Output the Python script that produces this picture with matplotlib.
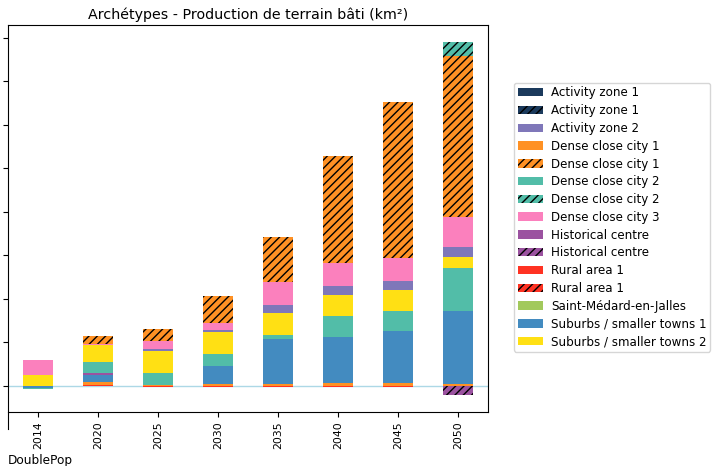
import matplotlib
matplotlib.use("Agg")
import matplotlib.pyplot as plt
import matplotlib.patches as mpatches
import numpy as np

years = ["2014", "2020", "2025", "2030", "2035", "2040", "2045", "2050"]

# Stacked series, in drawing order (bottom to top); values in axis tick units
rural_1             = [0.00, 0.01, -0.03, -0.03, -0.03, -0.03, -0.03, 0.00]
dense_city_1        = [0.00, 0.07, 0.03, 0.05, 0.05, 0.06, 0.06, 0.04]
suburbs_1           = [-0.05, 0.16, 0.00, 0.40, 1.02, 1.07, 1.21, 1.67]
historical          = [0.00, 0.06, 0.00, 0.00, 0.00, 0.00, 0.00, 0.00]
dense_city_2        = [-0.02, 0.26, 0.27, 0.28, 0.10, 0.47, 0.46, 0.99]
suburbs_2           = [0.26, 0.39, 0.51, 0.50, 0.50, 0.48, 0.47, 0.25]
activity_2          = [0.00, 0.00, 0.04, 0.05, 0.18, 0.22, 0.21, 0.23]
dense_city_3        = [0.34, 0.01, 0.18, 0.16, 0.54, 0.53, 0.52, 0.69]
dense_city_1_h      = [0.00, 0.19, 0.28, 0.63, 1.02, 2.44, 3.59, 3.71]
dense_city_2_h      = [0.00, 0.00, 0.00, 0.00, 0.00, 0.00, 0.00, 0.33]
historical_h        = [0.00, 0.00, 0.00, 0.00, 0.00, 0.00, 0.00, -0.21]
activity_1          = [0.0] * 8
activity_1_h        = [0.0] * 8
rural_1_h           = [0.0] * 8
saint_medard        = [0.0] * 8

C_ACT1 = "#1b3a5c"
C_ACT2 = "#7f77b9"
C_DC1 = "#ff9124"
C_DC2 = "#52bda8"
C_DC3 = "#fb80bd"
C_HIST = "#9b52a0"
C_RUR = "#ff3222"
C_SMJ = "#a2c95c"
C_SUB1 = "#438bc0"
C_SUB2 = "#ffe014"
HATCH = "////"

series = [
    (rural_1, C_RUR, None),
    (rural_1_h, C_RUR, HATCH),
    (dense_city_1, C_DC1, None),
    (suburbs_1, C_SUB1, None),
    (historical, C_HIST, None),
    (dense_city_2, C_DC2, None),
    (suburbs_2, C_SUB2, None),
    (activity_1, C_ACT1, None),
    (activity_2, C_ACT2, None),
    (saint_medard, C_SMJ, None),
    (dense_city_3, C_DC3, None),
    (dense_city_1_h, C_DC1, HATCH),
    (dense_city_2_h, C_DC2, HATCH),
    (historical_h, C_HIST, HATCH),
    (activity_1_h, C_ACT1, HATCH),
]

legend_items = [
    ("Activity zone 1", C_ACT1, None),
    ("Activity zone 1", C_ACT1, HATCH),
    ("Activity zone 2", C_ACT2, None),
    ("Dense close city 1", C_DC1, None),
    ("Dense close city 1", C_DC1, HATCH),
    ("Dense close city 2", C_DC2, None),
    ("Dense close city 2", C_DC2, HATCH),
    ("Dense close city 3", C_DC3, None),
    ("Historical centre", C_HIST, None),
    ("Historical centre", C_HIST, HATCH),
    ("Rural area 1", C_RUR, None),
    ("Rural area 1", C_RUR, HATCH),
    ("Saint-Médard-en-Jalles", C_SMJ, None),
    ("Suburbs / smaller towns 1", C_SUB1, None),
    ("Suburbs / smaller towns 2", C_SUB2, None),
]

plt.rcParams["hatch.linewidth"] = 1.0
fig = plt.figure(figsize=(7.12, 4.66), dpi=100)
ax = fig.add_axes([8/712, 1-412/466, 480/712, 387/466])

x = np.arange(len(years))
pos_base = np.zeros(len(years))
neg_base = np.zeros(len(years))
for vals, col, hatch in series:
    v = np.array(vals, dtype=float)
    pos = np.where(v > 0, v, 0)
    neg = np.where(v < 0, v, 0)
    if pos.any():
        ax.bar(x, pos, 0.5, bottom=pos_base, color=col, hatch=hatch,
               edgecolor="black" if hatch else col, linewidth=0)
        pos_base += pos
    if neg.any():
        ax.bar(x, neg, 0.5, bottom=neg_base, color=col, hatch=hatch,
               edgecolor="black" if hatch else col, linewidth=0)
        neg_base += neg

ax.axhline(0, color="#add8e6", linewidth=1.0, zorder=0.5)
ax.set_xlim(-0.5, len(years) - 0.5)
ax.set_ylim(-0.6, 8.29)
ax.set_yticks(range(0, 9))
ax.tick_params(axis="y", labelleft=False)
ax.set_xticks(x)
ax.set_xticklabels(years, rotation=90, fontsize=7.8)
ax.spines["left"].set_bounds(-1.0, 8.29)

ax.set_title("Archétypes - Production de terrain bâti (km²)", fontsize=10.3, pad=4)
fig.text(8/712, 1-464/466, "DoublePop", ha="left", va="baseline", fontsize=8.7)

handles = []
for lab, col, hatch in legend_items:
    handles.append(mpatches.Patch(facecolor=col, hatch=hatch,
                                  edgecolor="black" if hatch else col,
                                  linewidth=0, label=lab))
ax.legend(handles=handles, loc="center left", bbox_to_anchor=(1.054, 0.503),
          borderaxespad=0, fontsize=8.6, handlelength=2.1, labelspacing=0.4,
          borderpad=0.3, handletextpad=0.7, frameon=True)

fig.savefig("out.png", dpi=100)
